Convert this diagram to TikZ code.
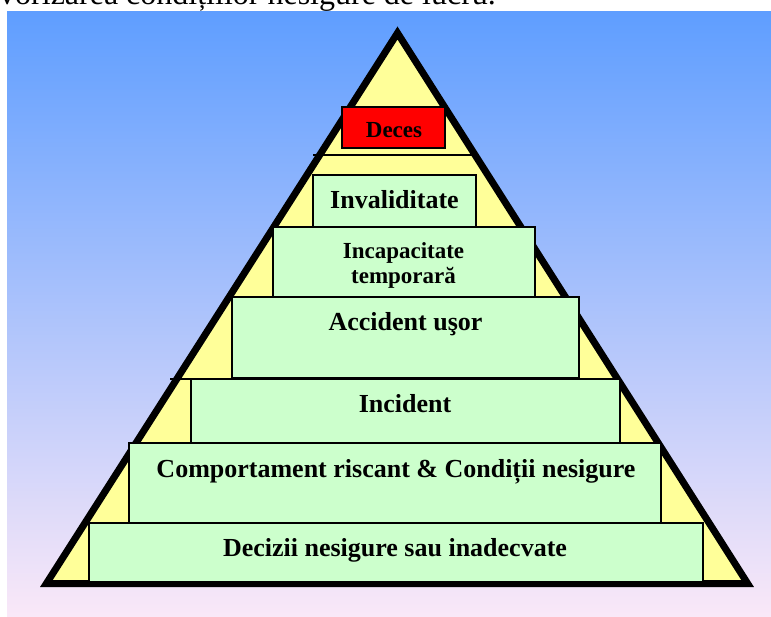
\documentclass[tikz,border=0pt]{standalone}
\usepackage{fontspec}
\setmainfont{Liberation Serif}
\definecolor{skytop}{RGB}{95,158,255}
\definecolor{skymid}{RGB}{135,186,250}
\definecolor{skybot}{RGB}{250,232,248}
\definecolor{pyryellow}{RGB}{255,255,153}
\definecolor{stagegreen}{RGB}{204,255,204}

\begin{document}
\begin{tikzpicture}[x=1pt,y=-1pt,
	stage/.style={draw,fill=stagegreen,line width=1.5pt,inner sep=0pt},
	lbl/.style={font=\fontsize{26}{26}\selectfont\bfseries,inner sep=0pt,anchor=base},
	lblsmall/.style={font=\fontsize{23}{25}\selectfont\bfseries,inner sep=0pt,align=center}]
\useasboundingbox (0,0) rectangle (771,617);
\clip (0,0) rectangle (771,617);
\shade[top color=skytop,middle color=skymid,bottom color=skybot] (7,12) rectangle (771,617);
\node (title) [anchor=base west,inner sep=0pt,font=\fontsize{32}{32}\selectfont] at (-1,5) {vorizarea condițiilor nesigure de lucru.};
	\draw[line width=7pt,line join=miter,fill=pyryellow] (397.5,33) -- (46.4,583.5) -- (747.6,583.5) -- cycle;
	\draw[line width=1.2pt] (313,155) -- (472,155);
	\draw[line width=1.2pt] (170,379) -- (191,379);
\node (deces) [stage,fill=red,minimum width=103pt,minimum height=41pt] at (393.5,127.5) {};
\node (invalid) [stage,minimum width=163pt,minimum height=52pt] at (394.5,201) {};
\node (incap) [stage,minimum width=262pt,minimum height=70pt] at (404,262) {};
\node (accident) [stage,minimum width=347pt,minimum height=81pt] at (405.5,337.5) {};
\node (incident) [stage,minimum width=429pt,minimum height=64pt] at (405.5,411) {};
\node (comport) [stage,minimum width=532pt,minimum height=80pt] at (395,483) {};
\node (decizii) [stage,minimum width=614pt,minimum height=59pt] at (396,552.5) {};
	\node (decesT) [lbl,font=\fontsize{23}{23}\selectfont\bfseries] at (394,138) {Deces};
	\node (invalidT) [lbl] at (394.5,209) {Invaliditate};
	\node (incapT) [lblsmall] at (403.5,265.5) {Incapacitate\\temporară};
	\node (accidentT) [lbl] at (405.5,331) {Accident uşor};
	\node (incidentT) [lbl] at (405,413) {Incident};
	\node (comportT) [lbl] at (396,477) {Comportament riscant \& Condiții nesigure};
	\node (deciziiT) [lbl] at (395,556) {Decizii nesigure sau inadecvate};
\end{tikzpicture}
\end{document}
